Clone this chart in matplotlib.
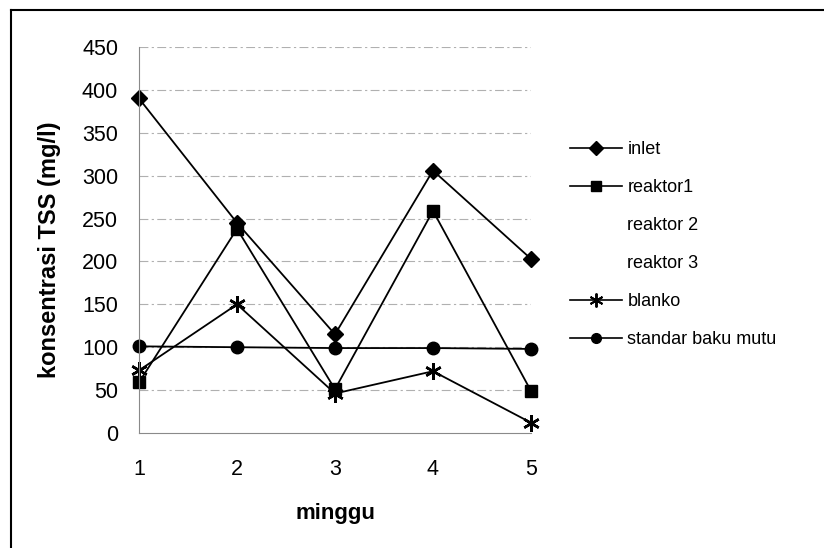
import matplotlib.pyplot as plt
from matplotlib.lines import Line2D

plt.rcParams["font.family"] = ["Liberation Sans", "DejaVu Sans"]

minggu = [1, 2, 3, 4, 5]
inlet = [390, 245, 115, 306, 203]
reaktor1 = [59, 238, 51, 259, 49]
reaktor2 = []
reaktor3 = []
blanko = [73, 150, 46, 72, 12]
standar = [101, 100, 99, 99, 98]

y_ticks = [0, 50, 100, 150, 200, 250, 300, 350, 400, 450]

fig = plt.figure(figsize=(8.24, 5.48), dpi=100)
ax = fig.add_axes([0.1687, 0.2099, 0.4757, 0.7043])

# horizontal gridlines, faint and broken
for v in y_ticks[1:]:
    ax.axhline(v, color="#b0b0b0", lw=0.8, ls=(0, (8, 3, 2, 3)), zorder=0)

ax.plot(minggu, inlet, "-D", color="black", ms=8, lw=1.3, clip_on=False, label="inlet")
ax.plot(minggu, reaktor1, "-s", color="black", ms=8, lw=1.3, clip_on=False, label="reaktor1")
ax.plot(reaktor2, reaktor2, ls="none", label="reaktor 2")
ax.plot(reaktor3, reaktor3, ls="none", label="reaktor 3")
ax.plot(minggu, blanko, "-", color="black", marker=(6, 2, 0), ms=12, mew=1.8, lw=1.3,
        clip_on=False, label="blanko")
ax.plot(minggu, standar, "-o", color="black", ms=9, lw=1.3, clip_on=False,
        label="standar baku mutu")

ax.set_xlim(1, 5)
ax.set_ylim(0, 450)
ax.set_xticks(minggu)
ax.set_yticks(y_ticks)
ax.tick_params(length=0, labelsize=15.5)
ax.tick_params(axis="y", pad=15)
ax.tick_params(axis="x", pad=19)
ax.spines[["top", "right"]].set_visible(False)
ax.spines["left"].set_color("#8a8a8a")
ax.spines["bottom"].set_color("#8a8a8a")
ax.set_xlabel("minggu", fontsize=16, fontweight="bold", labelpad=16)
ax.set_ylabel("konsentrasi TSS (mg/l)", fontsize=17, fontweight="bold")
ax.yaxis.set_label_coords(-0.2, 0.474)

handles = [
    Line2D([], [], color="black", marker="D", ms=7, lw=1.2),
    Line2D([], [], color="black", marker="s", ms=7, lw=1.2),
    Line2D([], [], ls="none"),
    Line2D([], [], ls="none"),
    Line2D([], [], color="black", marker=(6, 2, 0), ms=10, mew=1.4, lw=1.2),
    Line2D([], [], color="black", marker="o", ms=7, lw=1.2),
]
labels = ["inlet", "reaktor1", "reaktor 2", "reaktor 3", "blanko", "standar baku mutu"]
ax.legend(handles, labels, loc="upper left", bbox_to_anchor=(1.0995, 0.756),
          frameon=False, fontsize=13, handlelength=2.9, handletextpad=0.28,
          labelspacing=1.16, borderaxespad=0, borderpad=0)

# outer frame on left and top
fig.add_artist(Line2D([11 / 824, 11 / 824], [0, 1 - 10 / 548], transform=fig.transFigure,
                      color="black", lw=1.5))
fig.add_artist(Line2D([11 / 824, 1], [1 - 10 / 548, 1 - 10 / 548], transform=fig.transFigure,
                      color="black", lw=1.5))

fig.savefig("out.png", dpi=100)
